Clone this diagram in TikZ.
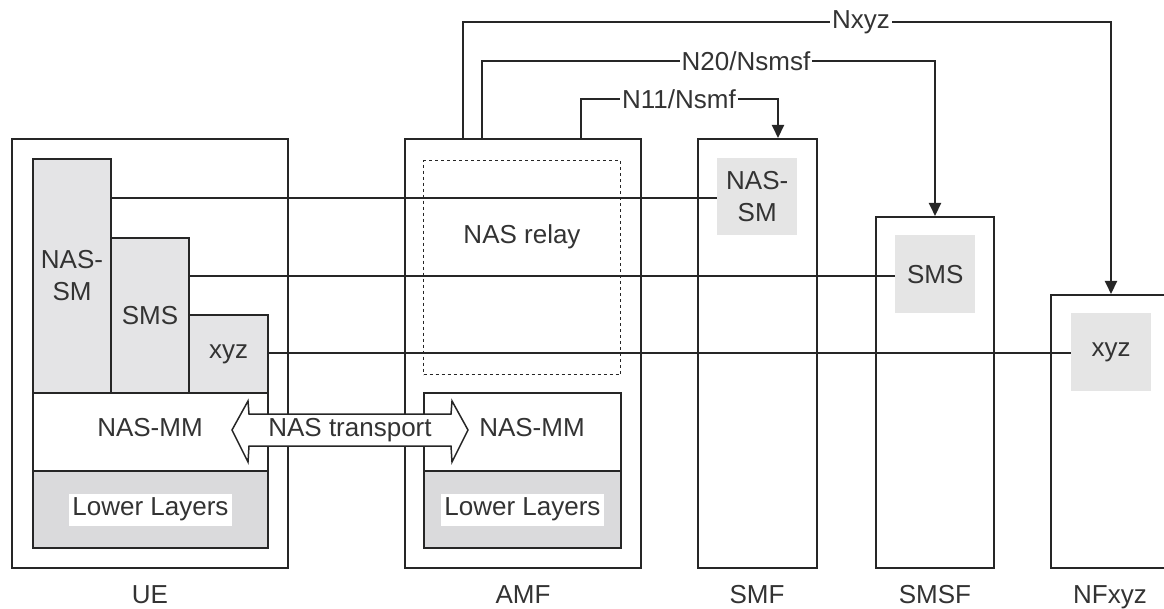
\documentclass[tikz,border=0pt]{standalone}
\usepackage{fontspec}
\setmainfont{Liberation Sans}
\usetikzlibrary{arrows.meta,calc}
\definecolor{linec}{HTML}{262626}
\definecolor{txtc}{HTML}{333333}
\definecolor{stackg}{HTML}{E4E4E6}
\definecolor{lowg}{HTML}{DADADC}
\definecolor{boxg}{HTML}{E5E5E5}
\begin{document}
\begin{tikzpicture}[x=1pt,y=-1pt,
  every node/.style={font=\fontsize{26}{32}\selectfont, text=txtc},
  box/.style={draw=linec, line width=2pt, inner sep=0pt, anchor=north west},
  stackbox/.style={box, fill=stackg, align=center},
  lowbox/.style={box, fill=lowg},
  greybox/.style={fill=boxg, inner sep=0pt, anchor=north west, align=center},
  whitelbl/.style={fill=white, inner xsep=3pt, inner ysep=0pt, minimum height=32pt},
  conn/.style={draw=linec, line width=2pt},
  arr/.style={conn, -{Triangle[width=12pt,length=13pt]}},
  lbl/.style={fill=white, inner xsep=2pt, inner ysep=1pt},
  caption/.style={inner sep=0pt},
  nflabel/.style={inner sep=0pt, anchor=base}
]
\useasboundingbox (0,0) rectangle (1164,609);

% ---------------- UE ----------------
\node[box, minimum width=276pt, minimum height=429pt] (ue) at (11,138) {};
\node[stackbox, minimum width=78pt, minimum height=234pt] (uesm) at (32,158) {NAS-\\SM};
\node[stackbox, minimum width=78pt, minimum height=155pt] (uesms) at (110,237) {SMS};
\node[stackbox, minimum width=79pt, minimum height=78pt] (uexyz) at (188,314) {xyz};
\node[box, fill=white, minimum width=235pt, minimum height=78pt] (uemm) at (32,392) {};
\node[caption] (uemmt) at (150,428) {NAS-MM};
\node[lowbox, minimum width=235pt, minimum height=77pt] (uell) at (32,470) {};
\node[whitelbl] (uellt) at (uell.center) {Lower Layers};
\node[nflabel] (uelbl) at (150,603) {UE};

% ---------------- AMF ----------------
\node[box, minimum width=236pt, minimum height=429pt] (amf) at (404,138) {};
\node[box, dashed, line width=1.4pt, minimum width=197pt, minimum height=214pt] (relay) at (423,160) {};
\node[caption] (relayt) at (522,237) {NAS relay};
\node[box, fill=white, minimum width=197pt, minimum height=78pt] (amfmm) at (423,392) {};
\node[caption] (amfmmt) at (532,428) {NAS-MM};
\node[lowbox, minimum width=197pt, minimum height=77pt] (amfll) at (423,470) {};
\node[whitelbl] (amfllt) at (amfll.center) {Lower Layers};
\node[nflabel] (amflbl) at (523,603) {AMF};

% ---------------- SMF ----------------
\node[box, minimum width=119pt, minimum height=429pt] (smf) at (697,138) {};
\node[greybox, minimum width=80pt, minimum height=77pt] (smfsm) at (717,158) {NAS-\\SM};
\node[nflabel] (smflbl) at (757,603) {SMF};

% ---------------- SMSF ----------------
\node[box, minimum width=118pt, minimum height=351pt] (smsf) at (875,216) {};
\node[greybox, minimum width=80pt, minimum height=78pt] (smsfsms) at (895,235) {SMS};
\node[nflabel] (smsflbl) at (935,603) {SMSF};

% ---------------- NFxyz ----------------
\node[box, minimum width=160pt, minimum height=273pt] (nf) at (1050,294) {};
\node[greybox, minimum width=80pt, minimum height=78pt] (nfxyz) at (1071,313) {xyz};
\node[nflabel] (nflbl) at (1110,603) {NFxyz};

% ---------------- horizontal peer lines ----------------
\draw[conn] (uesm.east |- 0,198) -- (smfsm.west |- 0,198);
\draw[conn] (uesms.east |- 0,276) -- (smsfsms.west |- 0,276);
\draw[conn] (uexyz.east |- 0,353) -- (nfxyz.west |- 0,353);

% ---------------- NAS transport double arrow ----------------
\coordinate (ntl) at (232,430);
\coordinate (ntr) at (468,430);
\draw[draw=linec, line width=1.5pt, fill=white, line join=miter]
  (ntl) -- (248,401) -- (249,414) -- (451,414) -- (452,401) -- (ntr)
  -- (452,462) -- (451,446) -- (249,446) -- (248,462) -- cycle;
\node[caption] (ntt) at (350,430) {NAS transport};

% ---------------- service-based links ----------------
\coordinate (n11s) at ([xshift=177pt]amf.north west);
\coordinate (n20s) at ([xshift=78pt]amf.north west);
\coordinate (nxs) at ([xshift=59pt]amf.north west);
\draw[arr] (n11s) |- (700,99) -| ([xshift=81pt]smf.north west);
\draw[arr] (n20s) |- (800,61) -| (smsf.north);
\draw[arr] (nxs) |- (900,22) -| ([xshift=61pt]nf.north west);
\node[lbl] (n11) at (679,99) {N11/Nsmf};
\node[lbl] (n20) at (746,61) {N20/Nsmsf};
\node[lbl] (nx) at (861,22) {Nxyz};
\end{tikzpicture}
\end{document}
